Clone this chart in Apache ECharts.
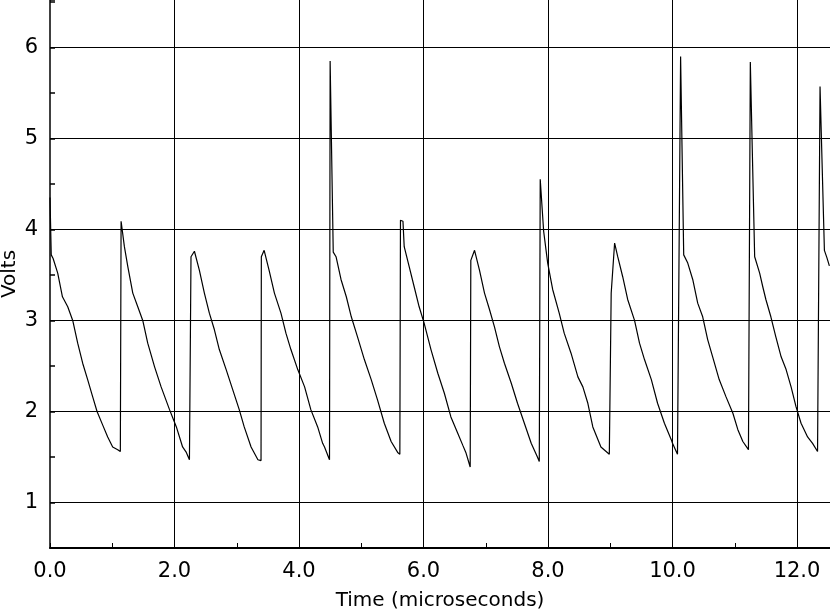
<!DOCTYPE html>
<html>
<head>
<meta charset="utf-8">
<script src="https://cdn.jsdelivr.net/npm/echarts@6/dist/echarts.min.js"></script>
<style>
html,body{margin:0;padding:0;background:#fff;}
#chart{width:830px;height:613px;}
</style>
</head>
<body>
<div id="chart"></div>
<script>
// Time in microseconds
var timeUs = [
  0.00, 0.02, 0.05, 0.124, 0.20, 0.285, 0.365, 0.445, 0.525, 0.605, 0.686, 0.756, 0.847, 0.927, 1.007, 1.088,
  1.13, 1.142,
  1.155, 1.195, 1.25, 1.33, 1.41, 1.49, 1.57, 1.68, 1.785, 1.92, 2.03, 2.13, 2.19, 2.24,
  2.25, 2.265, 2.32,
  2.40, 2.48, 2.56, 2.64, 2.72, 2.83, 2.935, 3.04, 3.12, 3.23, 3.34,
  3.39, 3.395, 3.44,
  3.52, 3.605, 3.71, 3.79, 3.87, 3.98, 4.09, 4.19, 4.30, 4.38, 4.41, 4.49,
  4.50, 4.55,
  4.595, 4.675, 4.76, 4.84, 4.94, 5.05, 5.16, 5.26, 5.37, 5.48, 5.585, 5.62,
  5.63,
  5.67, 5.69, 5.77, 5.85, 5.93, 6.01, 6.12, 6.23, 6.335, 6.44, 6.55, 6.63, 6.68, 6.75,
  6.76, 6.82,
  6.90, 6.98, 7.06, 7.14, 7.22, 7.30, 7.41, 7.51, 7.62, 7.73, 7.83, 7.86,
  7.875, 7.93,
  7.995, 8.075, 8.18, 8.26, 8.37, 8.48, 8.56, 8.64, 8.72, 8.85, 8.985,
  9.01, 9.015, 9.07,
  9.12, 9.20, 9.28, 9.39, 9.47, 9.55, 9.66, 9.76, 9.87, 9.98, 10.0, 10.08,
  10.10, 10.13, 10.18,
  10.245, 10.325, 10.405, 10.485, 10.565, 10.645, 10.75, 10.86, 10.97, 11.05, 11.13, 11.16, 11.22,
  11.245, 11.25, 11.32,
  11.40, 11.45, 11.50, 11.58, 11.66, 11.745, 11.825, 11.905, 11.985, 12.065, 12.17, 12.25, 12.33,
  12.355, 12.37, 12.44, 12.48, 12.52
];
// Voltage in volts
var volts = [
  4.35, 3.72, 3.68, 3.52, 3.26, 3.15, 3.00, 2.75, 2.53, 2.35, 2.16, 2.00, 1.85, 1.72, 1.61, 1.58,
  1.56, 4.09,
  4.08, 3.81, 3.59, 3.30, 3.15, 3.00, 2.75, 2.49, 2.27, 2.02, 1.83, 1.61, 1.55, 1.47,
  1.45, 3.70, 3.76,
  3.55, 3.30, 3.08, 2.90, 2.68, 2.46, 2.24, 2.02, 1.83, 1.61, 1.47,
  1.46, 3.70, 3.77,
  3.55, 3.30, 3.08, 2.86, 2.68, 2.46, 2.27, 2.02, 1.83, 1.65, 1.61, 1.47,
  5.85, 3.75,
  3.70, 3.45, 3.26, 3.04, 2.82, 2.57, 2.35, 2.13, 1.87, 1.67, 1.55, 1.53,
  4.10,
  4.09, 3.81, 3.59, 3.37, 3.15, 2.97, 2.68, 2.42, 2.20, 1.94, 1.76, 1.63, 1.55, 1.39,
  3.66, 3.77,
  3.55, 3.30, 3.12, 2.93, 2.71, 2.53, 2.31, 2.09, 1.87, 1.65, 1.50, 1.45,
  4.55, 3.98,
  3.63, 3.34, 3.08, 2.86, 2.64, 2.38, 2.27, 2.09, 1.83, 1.61, 1.53,
  1.53, 3.30, 3.85,
  3.70, 3.48, 3.23, 3.00, 2.75, 2.57, 2.35, 2.09, 1.87, 1.69, 1.65, 1.53,
  1.53, 5.90, 3.72,
  3.63, 3.45, 3.19, 3.04, 2.79, 2.60, 2.35, 2.16, 1.98, 1.80, 1.67, 1.65, 1.58,
  1.57, 5.84, 3.70,
  3.52, 3.37, 3.23, 3.04, 2.82, 2.60, 2.46, 2.27, 2.05, 1.87, 1.72, 1.65, 1.56,
  1.55, 5.57, 3.77, 3.69, 3.60
];
// Grid line positions
var xGridLines = [2, 4, 6, 8, 10, 12];
var yGridLines = [1, 2, 3, 4, 5, 6];

var FONT = '"DejaVu Sans", Verdana, sans-serif';
function isInt(v) { return Math.abs(v - Math.round(v)) < 1e-6; }

var chart = echarts.init(document.getElementById('chart'), null, {renderer: 'canvas'});
var gridData = [];
yGridLines.forEach(function (v) { gridData.push({yAxis: v}); });
xGridLines.forEach(function (v) { gridData.push({xAxis: v}); });

chart.setOption({
  backgroundColor: '#ffffff',
  animation: false,
  grid: {left: 50, right: 0, top: 0, bottom: 65, containLabel: false, outerBoundsMode: 'none'},
  xAxis: {
    type: 'value', min: 0, max: 12.53, interval: 1,
    name: 'Time (microseconds)', nameLocation: 'middle', nameGap: 43, nameMoveOverlap: false,
    nameTextStyle: {fontSize: 20, color: '#000', fontFamily: FONT},
    axisLine: {show: true, lineStyle: {color: '#000', width: 2}},
    axisTick: {show: true, inside: true, length: 5, lineStyle: {color: '#000', width: 1}},
    axisLabel: {
      fontSize: 21, color: '#000', fontFamily: FONT, margin: 13, showMaxLabel: false, hideOverlap: false,
      formatter: function (v) { return (isInt(v) && Math.round(v) % 2 === 0) ? Math.round(v).toFixed(1) : ''; }
    },
    splitLine: {show: false}
  },
  yAxis: {
    type: 'value', min: 0.5, max: 6.52, interval: 0.5,
    name: 'Volts', nameLocation: 'middle', nameGap: 30, nameRotate: 90, nameMoveOverlap: false,
    nameTextStyle: {fontSize: 20, color: '#000', fontFamily: FONT},
    axisLine: {show: true, lineStyle: {color: '#000', width: 1.5}},
    axisTick: {show: true, inside: true, length: 5, lineStyle: {color: '#000', width: 1.5}},
    axisLabel: {
      fontSize: 21, color: '#000', fontFamily: FONT, margin: 12, hideOverlap: false,
      formatter: function (v) { return isInt(v) ? String(Math.round(v)) : ''; }
    },
    splitLine: {show: false}
  },
  series: [{
    type: 'line',
    data: timeUs.map(function (t, i) { return [t, volts[i]]; }),
    showSymbol: false, symbol: 'none',
    lineStyle: {color: '#000', width: 1.2},
    markLine: {
      silent: true, symbol: ['none', 'none'], animation: false,
      label: {show: false},
      lineStyle: {color: '#000', width: 1, type: 'solid'},
      emphasis: {disabled: true},
      data: gridData
    }
  }]
});
</script>
</body>
</html>
